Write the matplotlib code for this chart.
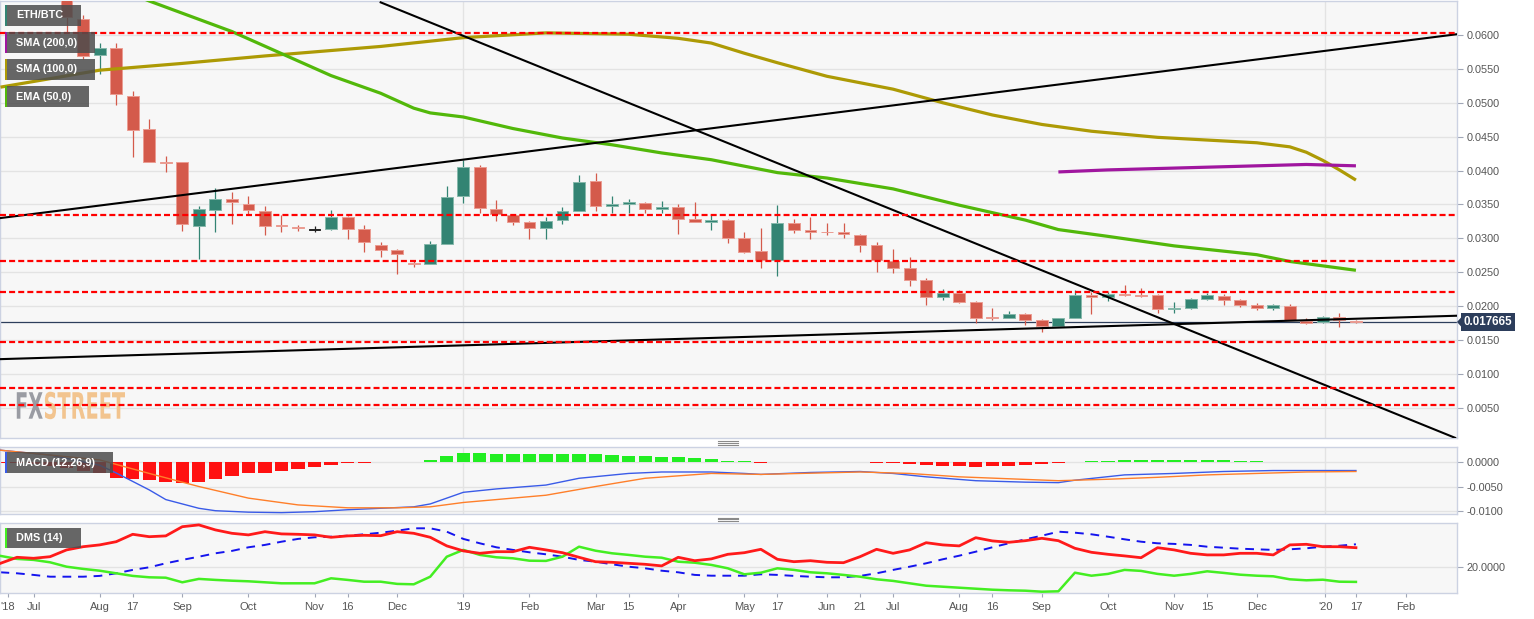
import numpy as np
import pandas as pd
import matplotlib
matplotlib.use('Agg')
import matplotlib.pyplot as plt
import matplotlib.dates as mdates
from matplotlib.patches import Rectangle, PathPatch, Polygon
from matplotlib.textpath import TextPath
from matplotlib.font_manager import FontProperties
from matplotlib.transforms import Affine2D
from matplotlib.ticker import FuncFormatter
from matplotlib.lines import Line2D

plt.rcParams['font.family'] = ['Liberation Sans', 'DejaVu Sans']

W, H = 1534, 619

# ---------- Data: weekly ETH/BTC, k = weeks after 2018-09-03 ----------
BASE = pd.Timestamp('2018-09-03')

candle_k = list(range(-7, 72))
opens = [0.0690, 0.0623, 0.0570, 0.0581, 0.0510, 0.0461, 0.0413,
         0.0412, 0.0319, 0.0342, 0.0358, 0.0351, 0.0341, 0.0319, 0.0317, 0.0313, 0.0314,
         0.0332, 0.0314, 0.0291, 0.0283, 0.0264, 0.0262, 0.0292, 0.0362, 0.0405, 0.0344,
         0.0335, 0.0324, 0.0316, 0.0327, 0.0340, 0.0384, 0.0348, 0.0350, 0.0352, 0.0344,
         0.0347, 0.0329, 0.0324, 0.0327, 0.0301, 0.0281, 0.0268, 0.0322, 0.0313, 0.0310,
         0.0309, 0.0305, 0.0290, 0.0267, 0.0256, 0.0238, 0.0214, 0.0220, 0.0206, 0.0184,
         0.0183, 0.0189, 0.0180, 0.0171, 0.0183, 0.0216, 0.0213, 0.0218, 0.0217, 0.0216,
         0.0196, 0.0198, 0.0211, 0.0215, 0.0209, 0.0202, 0.0197, 0.0201, 0.0178, 0.0177,
         0.0184, 0.0178]
highs = [0.0700, 0.0629, 0.0588, 0.0588, 0.0517, 0.0476, 0.0422,
         0.0413, 0.0348, 0.0374, 0.0369, 0.0363, 0.0348, 0.0335, 0.0320, 0.0318, 0.0342,
         0.0333, 0.0320, 0.0295, 0.0285, 0.0266, 0.0296, 0.0377, 0.0416, 0.0408, 0.0357,
         0.0335, 0.0325, 0.0331, 0.0346, 0.0394, 0.0396, 0.0362, 0.0358, 0.0353, 0.0355,
         0.0350, 0.0353, 0.0334, 0.0328, 0.0309, 0.0315, 0.0349, 0.0329, 0.0332, 0.0322,
         0.0323, 0.0306, 0.0295, 0.0284, 0.0272, 0.0241, 0.0225, 0.0224, 0.0207, 0.0198,
         0.0193, 0.0190, 0.0181, 0.0183, 0.0224, 0.0221, 0.0221, 0.0231, 0.0227, 0.0218,
         0.0206, 0.0212, 0.0219, 0.0218, 0.0211, 0.0205, 0.0203, 0.0203, 0.0182, 0.0185,
         0.0190, 0.0180]
lows = [0.0604, 0.0565, 0.0542, 0.0496, 0.0420, 0.0413, 0.0398,
        0.0311, 0.0269, 0.0310, 0.0321, 0.0336, 0.0305, 0.0309, 0.0311, 0.0309, 0.0313,
        0.0299, 0.0280, 0.0273, 0.0248, 0.0258, 0.0262, 0.0292, 0.0352, 0.0338, 0.0325,
        0.0320, 0.0299, 0.0299, 0.0321, 0.0340, 0.0341, 0.0337, 0.0337, 0.0337, 0.0337,
        0.0306, 0.0324, 0.0312, 0.0293, 0.0279, 0.0256, 0.0245, 0.0308, 0.0299, 0.0305,
        0.0300, 0.0280, 0.0250, 0.0249, 0.0230, 0.0202, 0.0209, 0.0205, 0.0176, 0.0179,
        0.0182, 0.0173, 0.0162, 0.0170, 0.0182, 0.0189, 0.0207, 0.0215, 0.0213, 0.0190,
        0.0190, 0.0196, 0.0209, 0.0202, 0.0199, 0.0195, 0.0195, 0.0179, 0.0174, 0.0176,
        0.0170, 0.0175]
closes = [0.0626, 0.0569, 0.0580, 0.0513, 0.0460, 0.0413, 0.0411,
          0.0321, 0.0343, 0.0358, 0.0353, 0.0342, 0.0319, 0.0318, 0.0315, 0.0313, 0.0332,
          0.0314, 0.0295, 0.0283, 0.0277, 0.0262, 0.0292, 0.0361, 0.0406, 0.0345, 0.0336,
          0.0324, 0.0316, 0.0326, 0.0340, 0.0383, 0.0348, 0.0350, 0.0353, 0.0343, 0.0347,
          0.0329, 0.0324, 0.0327, 0.0301, 0.0280, 0.0268, 0.0323, 0.0313, 0.0310, 0.0309,
          0.0306, 0.0291, 0.0268, 0.0257, 0.0238, 0.0214, 0.0219, 0.0206, 0.0183, 0.0182,
          0.0189, 0.0180, 0.0171, 0.0183, 0.0217, 0.0213, 0.0218, 0.0216, 0.0215, 0.0196,
          0.0198, 0.0211, 0.0216, 0.0209, 0.0202, 0.0197, 0.0202, 0.0179, 0.0176, 0.0184,
          0.0179, 0.017665]

sma200_k = [53, 56, 59, 62, 65, 68, 71]
sma200_v = [0.0398, 0.0401, 0.0403, 0.0405, 0.0407, 0.0409, 0.0407]

sma100_k = [-11, -5, 0, 5, 12, 17, 22, 27, 30, 32, 34, 36, 39, 43, 46, 49, 52, 55, 59,
            62, 65, 67, 68, 69, 70, 71]
sma100_v = [0.0523, 0.0548, 0.0558, 0.0569, 0.0583, 0.0596, 0.0603, 0.0601, 0.0595,
            0.0588, 0.0573, 0.0559, 0.0539, 0.0520, 0.0500, 0.0482, 0.0468, 0.0458,
            0.0449, 0.0445, 0.0441, 0.0435, 0.0427, 0.0415, 0.0401, 0.0386]

ema50_k = [-4, -2, 3, 9, 12, 14, 15, 17, 20, 23, 26, 29, 32, 36, 39, 43, 47, 51, 53,
           56, 60, 65, 67, 71]
ema50_v = [0.0670, 0.0650, 0.0605, 0.0540, 0.0514, 0.0492, 0.0485, 0.0479, 0.0462,
           0.0448, 0.0438, 0.0426, 0.0416, 0.0397, 0.0389, 0.0373, 0.0349, 0.0327,
           0.0313, 0.0303, 0.0289, 0.0276, 0.0266, 0.0253]

# hand-drawn trendlines (two anchor points each)
trend_up_k = [-11, 77.1]
trend_up_v = [0.0330, 0.0601]
trend_down_k = [12, 77]
trend_down_v = [0.0648, 0.0006]
trend_support_k = [-11, 77.1]
trend_support_v = [0.0122, 0.0186]

levels = [0.0603, 0.0335, 0.0266, 0.0221, 0.0148, 0.0080, 0.0055]
last_price = 0.017665

# MACD (12,26,9)
hist_k = list(range(-11, 72))
hist_v = [-0.0001, -0.0002, -0.0004, -0.0007, -0.0012, -0.0018, -0.0023, -0.0032, -0.0035,
          -0.0037, -0.0040,
          -0.0042, -0.0040, -0.0035, -0.0029, -0.0023, -0.0022, -0.0018, -0.0013, -0.0010,
          -0.0005, -0.0002,
          -0.0001, 0.0000, 0.0001, 0.0001, 0.0005, 0.0013, 0.0020, 0.0020, 0.0018, 0.0018,
          0.0017, 0.0017, 0.0017, 0.0018, 0.0017, 0.0016, 0.0014, 0.0013, 0.0011, 0.0010,
          0.0008, 0.0006, 0.0003, 0.0002, -0.0001, 0.0001, 0.0001, 0.0001, 0.0001, 0.0001,
          0.0001, -0.0001, -0.0002, -0.0003, -0.0005, -0.0007, -0.0008, -0.0009, -0.0008,
          -0.0007, -0.0006, -0.0004, -0.0002, 0.0001, 0.0002, 0.0003, 0.0004, 0.0005,
          0.0005, 0.0005,
          0.0005, 0.0005, 0.0004, 0.0003, 0.0002, 0.0001, 0.0001, 0.0001, 0.0001, 0.0001,
          0.0001]
macd_k = [-11, -8, -5, -4, -2, -1, 1, 2, 4, 6, 8, 10, 12, 14, 15, 17, 19, 22, 24, 27, 29,
          32, 34, 35, 38, 41, 43, 45, 48, 51, 53, 54, 57, 60, 63, 66, 69, 71]
macd_v = [0.0025, 0.0015, -0.0006, -0.0022, -0.0057, -0.0077, -0.0095, -0.0100, -0.0103,
          -0.0104, -0.0102, -0.0098, -0.0095, -0.0092, -0.0086, -0.0062, -0.0055, -0.0047,
          -0.0033, -0.0023, -0.0020, -0.0020, -0.0023, -0.0025, -0.0021, -0.0019, -0.0023,
          -0.0030, -0.0038, -0.0041, -0.0042, -0.0037, -0.0026, -0.0023, -0.0019, -0.0017,
          -0.0017, -0.0017]
signal_k = [-11, -5, -2, 1, 4, 7, 10, 13, 15, 17, 22, 25, 28, 32, 35, 41, 44, 47, 50, 53,
            56, 59, 62, 65, 68, 71]
signal_v = [0.0025, 0.0005, -0.0023, -0.0050, -0.0074, -0.0088, -0.0094, -0.0094, -0.0092,
            -0.0083, -0.0068, -0.0050, -0.0033, -0.0023, -0.0025, -0.0020, -0.0023, -0.0030,
            -0.0034, -0.0038, -0.0035, -0.0031, -0.0026, -0.0023, -0.0020, -0.0019]

# DMS (14)
dms_k = list(range(-11, 72))
minus_di = [22.0, 25.0, 24.5, 25.3, 28.7, 30.3, 31.2, 32.8, 36.5, 35.3, 35.7, 40.3, 41.2,
            38.7, 37.0, 36.2, 37.8, 36.7, 36.5, 36.2, 35.0, 35.7, 36.0, 35.8, 37.8, 37.0,
            35.0, 30.7, 28.2, 27.0, 27.8, 27.8, 30.0, 28.7, 27.3, 25.0, 22.8, 22.5, 22.0,
            21.5, 20.7, 25.0, 23.3, 24.2, 26.5, 27.3, 29.0,
            24.0, 22.8, 23.3, 22.5, 22.3, 25.3, 29.0, 27.0, 28.7, 32.3, 31.2, 30.7, 34.8,
            33.2, 32.5, 33.3, 34.5, 33.3, 29.5, 27.5, 26.5, 25.7, 24.8, 29.8, 28.7, 27.0,
            26.2, 26.2, 27.0, 27.0, 26.2, 31.2, 31.5, 30.3, 30.3, 29.8]
plus_di = [25.7, 24.2, 23.7, 22.5, 20.3, 19.2, 18.3, 17.0, 15.7, 15.0, 14.8, 12.5, 14.2,
           13.7, 13.3, 13.0, 12.5, 12.0, 12.0, 12.0, 14.5, 13.7, 12.8, 12.8, 11.7, 11.5,
           15.3, 25.3, 28.7, 26.2, 25.0, 24.5, 23.3, 23.2, 25.3, 30.3, 28.3, 27.0, 26.2,
           25.3, 24.8, 22.8, 22.3, 21.2, 19.5, 16.5, 17.3,
           19.5, 18.7, 17.5, 17.0, 16.2, 15.3, 14.0, 13.2, 12.0, 10.8, 10.3, 9.8, 9.3,
           8.8, 8.5, 8.3, 7.8, 8.0, 17.3, 15.8, 16.7, 18.7, 18.2, 16.7, 15.8, 16.7, 18.0,
           17.2, 16.3, 15.8, 15.5, 14.0, 13.5, 13.8, 12.8, 12.7]
adx = [17.5, 17.0, 16.2, 15.3, 15.3, 15.3, 15.7, 17.0, 18.7, 20.0, 22.0, 23.7, 25.3, 27.0,
       28.2, 30.0, 31.2, 32.8, 34.2, 35.0, 35.3, 35.8, 36.5, 37.3, 38.3, 39.5, 39.5, 37.8,
       34.2, 32.0, 30.0, 28.7, 27.5, 26.5, 25.3, 23.7, 22.8, 21.5, 20.3, 19.5, 18.3, 17.5,
       16.2, 15.8, 15.8, 15.8, 16.5,
       16.2, 15.7, 15.3, 15.0, 15.0, 15.7, 17.0, 18.7, 20.3, 22.0, 24.0, 25.8, 27.8, 30.0,
       32.0, 34.0, 35.8, 37.8, 37.3, 36.5, 35.3, 34.0, 32.8, 32.0, 31.7, 31.2, 30.3, 29.8,
       29.3, 29.0, 28.7, 29.0, 29.5, 30.3, 30.8, 31.5]

tick_dates = ['2018-06-21', '2018-07-02', '2018-07-30', '2018-08-13', '2018-09-03',
              '2018-10-01', '2018-10-29', '2018-11-12', '2018-12-03', '2018-12-31',
              '2019-01-28', '2019-02-25', '2019-03-11', '2019-04-01', '2019-04-29',
              '2019-05-13', '2019-06-03', '2019-06-17', '2019-07-01', '2019-07-29',
              '2019-08-12', '2019-09-02', '2019-09-30', '2019-10-28', '2019-11-11',
              '2019-12-02', '2019-12-31', '2020-01-13', '2020-02-03']
tick_labels = ["'18", 'Jul', 'Aug', '17', 'Sep', 'Oct', 'Nov', '16', 'Dec', "'19", 'Feb',
               'Mar', '15', 'Apr', 'May', '17', 'Jun', '21', 'Jul', 'Aug', '16', 'Sep',
               'Oct', 'Nov', '15', 'Dec', "'20", '17', 'Feb']
year_lines = ['2018-12-31', '2019-12-31']

# ---------- Styling ----------
RED_C, GREEN_C = '#d45a4b', '#338473'
OLIVE, LIME, PURPLE = '#ad9a05', '#52b80a', '#a0169f'
BG, SPINE, GRID = '#f7f7f7', '#ccd2e2', '#e3e3e3'


def wk(k):
    return mdates.date2num(BASE) + 7 * np.asarray(k, dtype=float)


XLIM = (mdates.date2num(BASE) - 77.2, mdates.date2num(BASE) + 539.8)
fmt4 = FuncFormatter(lambda v, p: f'{v:.4f}')


def frac(x0, y0, x1, y1):
    return [x0 / W, 1 - y1 / H, (x1 - x0) / W, (y1 - y0) / H]


fig = plt.figure(figsize=(W / 100, H / 100), dpi=100)
fig.patch.set_facecolor('white')

ax = fig.add_axes(frac(0, 1, 1457, 438.3))
axm = fig.add_axes(frac(0, 447.3, 1457, 514))
axd = fig.add_axes(frac(0, 523.3, 1457, 593.3))

yl_dates = mdates.date2num(pd.to_datetime(year_lines))
for a in (ax, axm, axd):
    a.set_facecolor(BG)
    a.set_xlim(*XLIM)
    a.set_axisbelow(True)
    for s in a.spines.values():
        s.set_color(SPINE)
        s.set_linewidth(1)
    a.yaxis.tick_right()
    a.yaxis.set_major_formatter(fmt4)
    a.tick_params(axis='y', length=4, width=0.8, color='#a0a6b6', labelsize=7.8,
                  labelcolor='#555555', pad=3)
    a.grid(axis='y', color=GRID, lw=1)
    for d in yl_dates:
        a.axvline(d, color=GRID, lw=1, zorder=0)

# ---------- Main price panel ----------
ax.set_ylim(0.00053, 0.0650)
ax.set_yticks(np.arange(0.005, 0.0601, 0.005))
ax.set_xticks([])

o, h, l, c = (np.array(v) for v in (opens, highs, lows, closes))
xc = wk(candle_k)
fill = np.where(c > o, GREEN_C, np.where(c < o, RED_C, '#222222'))
edge = np.where(c > o, '#86b8ab', np.where(c < o, '#eb9c92', '#222222'))
ax.vlines(xc, l, h, colors=fill, lw=0.9, zorder=3)
body_h = np.maximum(np.abs(c - o), 0.00012)
body_b = (o + c) / 2 - body_h / 2
ax.bar(xc, body_h, bottom=body_b, width=5.0, color=fill, edgecolor=edge,
       linewidth=0.7, zorder=4)

ax.axhline(last_price, color='#2e3f5c', lw=0.9, zorder=2)

ax.plot(wk(sma100_k), sma100_v, color=OLIVE, lw=2.3, zorder=5, solid_capstyle='butt')
ax.plot(wk(ema50_k), ema50_v, color=LIME, lw=2.3, zorder=5, solid_capstyle='butt')
ax.plot(wk(sma200_k), sma200_v, color=PURPLE, lw=2.3, zorder=5, solid_capstyle='butt')

for tk, tv in ((trend_up_k, trend_up_v), (trend_down_k, trend_down_v),
               (trend_support_k, trend_support_v)):
    ax.plot(wk(tk), tv, color='black', lw=1.5, zorder=6)

for lv in levels:
    ax.axhline(lv, color='#ff0000', lw=1.6, dashes=(2.7, 1.4), zorder=6)

# FXSTREET watermark, drawn as squeezed text paths
fp = FontProperties(family='DejaVu Sans', weight='bold')
tp_fx = TextPath((0, 0), 'FX', size=1, prop=fp)
fx_w = tp_fx.get_extents().xmax
tp_st = TextPath((fx_w + 0.04, 0), 'STREET', size=1, prop=fp)
tot_w = tp_st.get_extents().xmax
cap_h = tp_fx.get_extents().ymax
wm_tr = Affine2D().scale(1.10 / tot_w, 0.265 / cap_h).translate(0.15, (H - 418.7) / 100)
for tp, colr in ((tp_fx, '#9a9ca3'), (tp_st, '#f2c48f')):
    ax.add_artist(PathPatch(tp, transform=wm_tr + fig.dpi_scale_trans,
                            facecolor=colr, edgecolor='none', zorder=1))

# ---------- MACD panel ----------
axm.set_ylim(-0.01068, 0.0031)
axm.set_yticks([0.0, -0.005, -0.01])
axm.set_xticks([])
hv = np.array(hist_v)
axm.bar(wk(hist_k), hv, width=5.6, color=np.where(hv >= 0, '#22ee22', '#ff1111'), zorder=2)
axm.plot(wk(macd_k), macd_v, color='#3a5be8', lw=1.0, zorder=3)
axm.plot(wk(signal_k), signal_v, color='#ff7f2a', lw=1.0, zorder=3)

# ---------- DMS panel ----------
axd.set_ylim(7.0, 42.0)
axd.set_yticks([20])
axd.plot(wk(dms_k), adx, color='#1414ee', lw=1.4, dashes=(4.5, 3.5), zorder=2)
axd.plot(wk(dms_k), plus_di, color='#44ee22', lw=1.8, zorder=3)
axd.plot(wk(dms_k), minus_di, color='#ff1a1a', lw=2.0, zorder=4)
axd.set_xticks(mdates.date2num(pd.to_datetime(tick_dates)))
axd.set_xticklabels(tick_labels)
axd.tick_params(axis='x', length=3, width=0.8, color='#a0a6b6', labelsize=8,
                labelcolor='#555555', pad=3)

# ---------- Overlay labels (figure pixel coordinates) ----------
def label_box(x, y, w, hgt, strip, text):
    fig.add_artist(Rectangle((x / W, 1 - (y + hgt) / H), w / W, hgt / H,
                             transform=fig.transFigure, facecolor='#4d4d4d',
                             alpha=0.85, edgecolor='none', zorder=5))
    fig.add_artist(Rectangle((x / W, 1 - (y + hgt) / H), 2 / W, hgt / H,
                             transform=fig.transFigure, facecolor=strip,
                             edgecolor='none', zorder=6))
    fig.text((x + 11) / W, 1 - (y + hgt / 2) / H, text, color='white', fontsize=7.8,
             fontweight='bold', ha='left', va='center', zorder=7)


label_box(5, 5, 76, 21, GREEN_C, 'ETH/BTC')
label_box(5, 32, 90, 21, PURPLE, 'SMA (200,0)')
label_box(5, 59, 90, 21, OLIVE, 'SMA (100,0)')
label_box(5, 86, 84, 21, LIME, 'EMA (50,0)')
label_box(5, 452, 108, 21, '#3a5be8', 'MACD (12,26,9)')
label_box(5, 528, 76, 20, '#44ee22', 'DMS (14)')

# last-price tag on the right axis
ty = 1 - 322 / H
fig.add_artist(Rectangle((1461 / W, 1 - 331 / H), 54 / W, 18 / H, transform=fig.transFigure,
                         facecolor='#2c3d5b', edgecolor='none', zorder=5))
fig.add_artist(Polygon([(1457 / W, ty), (1461.5 / W, ty + 5 / H), (1461.5 / W, ty - 5 / H)],
                       closed=True, transform=fig.transFigure, facecolor='#2c3d5b',
                       edgecolor='none', zorder=5))
fig.text(1488 / W, ty, f'{last_price:.6f}', color='white', fontsize=8.3, fontweight='bold',
         ha='center', va='center', zorder=6)

# panel resize handles
for yy in (441.3, 517.7):
    for dy in (0, 1.7, 3.4):
        fig.add_artist(Line2D([718 / W, 738 / W], [1 - (yy + dy) / H] * 2,
                              transform=fig.transFigure, color='#8a8a8a', lw=0.8))

fig.savefig('out.png', dpi=100, facecolor='white')
